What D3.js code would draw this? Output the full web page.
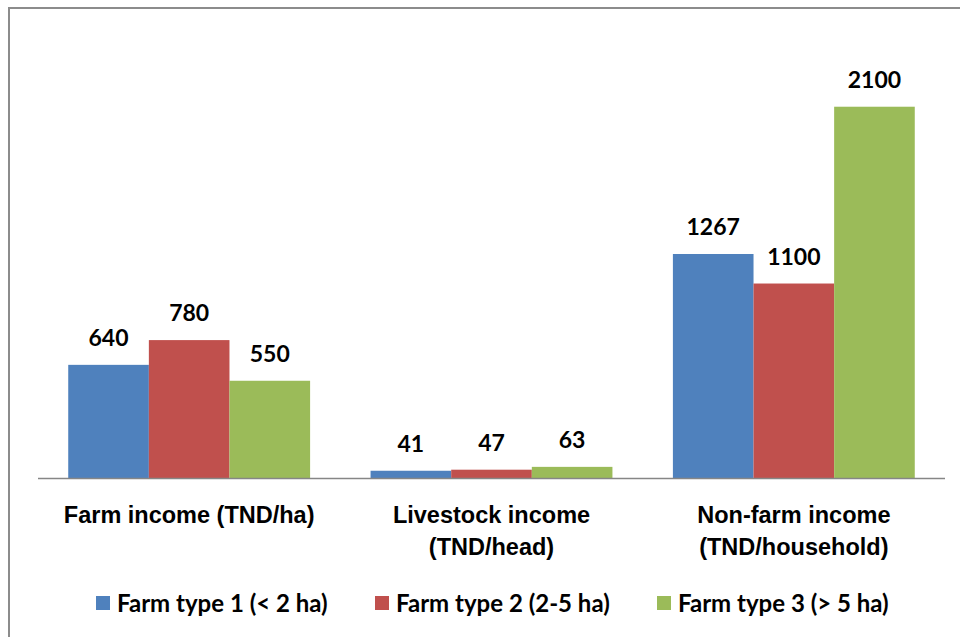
<!DOCTYPE html>
<html>
<head>
<meta charset="utf-8">
<script src="https://cdn.jsdelivr.net/npm/d3@7"></script>
<style>
  html, body { margin: 0; padding: 0; background: #fff; }
  svg { display: block; font-family: Lato, "Open Sans", sans-serif; }
</style>
</head>
<body>
<svg id="chart" width="960" height="637"></svg>
<script>
// Income categories (two-line axis labels)
const categories = [
  ["Farm income (TND/ha)"],
  ["Livestock income", "(TND/head)"],
  ["Non-farm income", "(TND/household)"]
];
const seriesNames = ["Farm type 1 (< 2 ha)", "Farm type 2 (2-5 ha)", "Farm type 3 (> 5 ha)"];
const type1 = [640, 41, 1267];
const type2 = [780, 47, 1100];
const type3 = [550, 63, 2100];
const colors = ["#4f81bd", "#c0504d", "#9bbb59"];

const svg = d3.select("#chart");

// Outer chart frame
svg.append("rect")
  .attr("x", 9).attr("y", 8)
  .attr("width", 980).attr("height", 660)
  .attr("fill", "none").attr("stroke", "#8c8c8c").attr("stroke-width", 2);

const plot = { left: 38, right: 945, top: 36, bottom: 478 };
const series = [type1, type2, type3];

const x0 = d3.scaleBand()
  .domain(d3.range(categories.length))
  .range([plot.left, plot.right])
  .paddingInner(0.2).paddingOuter(0.1);
const x1 = d3.scaleBand()
  .domain(d3.range(series.length))
  .range([0, x0.bandwidth()]);
const y = d3.scaleLinear().domain([0, 2500]).range([plot.bottom, plot.top]);

const groups = svg.append("g").selectAll("g")
  .data(categories.map((c, i) => i))
  .join("g")
  .attr("transform", i => `translate(${x0(i)},0)`);

groups.selectAll("rect")
  .data(i => series.map((s, k) => ({ k, v: s[i] })))
  .join("rect")
  .attr("x", d => x1(d.k))
  .attr("y", d => y(d.v))
  .attr("width", x1.bandwidth())
  .attr("height", d => y(0) - y(d.v))
  .attr("fill", d => colors[d.k]);

groups.selectAll("text.val")
  .data(i => series.map((s, k) => ({ k, v: s[i] })))
  .join("text")
  .attr("class", "val")
  .attr("x", d => x1(d.k) + x1.bandwidth() / 2)
  .attr("y", d => y(d.v) - 19)
  .attr("text-anchor", "middle")
  .attr("font-size", 23).attr("font-weight", "bold").attr("fill", "#000")
  .text(d => d.v);

// Category axis
const xAxis = svg.append("g")
  .attr("transform", `translate(0,${plot.bottom})`)
  .call(d3.axisBottom(x0).tickSize(0).tickFormat(""));
xAxis.select(".domain").attr("stroke", "#868686").attr("stroke-width", 1.3)
  .attr("d", `M${plot.left},0.5H${plot.right}`);

xAxis.selectAll(".tick").each(function (i) {
  const t = d3.select(this).append("text")
    .attr("text-anchor", "middle")
    .attr("fill", "#000")
    .attr("font-size", 23.5)
    .attr("font-weight", "bold");
  categories[i].forEach((line, j) => {
    t.append("tspan").attr("x", 0).attr("y", 45 + j * 32).text(line);
  });
});

// Legend
const legendX = [96, 375, 657];
const legend = svg.append("g").selectAll("g")
  .data(seriesNames)
  .join("g")
  .attr("transform", (d, i) => `translate(${legendX[i]},596)`);
legend.append("rect")
  .attr("width", 14).attr("height", 14)
  .attr("fill", (d, i) => colors[i]);
legend.append("text")
  .attr("x", 21).attr("y", 16)
  .attr("font-size", 24).attr("font-weight", "bold").attr("fill", "#000")
  .text(d => d);
</script>
</body>
</html>
